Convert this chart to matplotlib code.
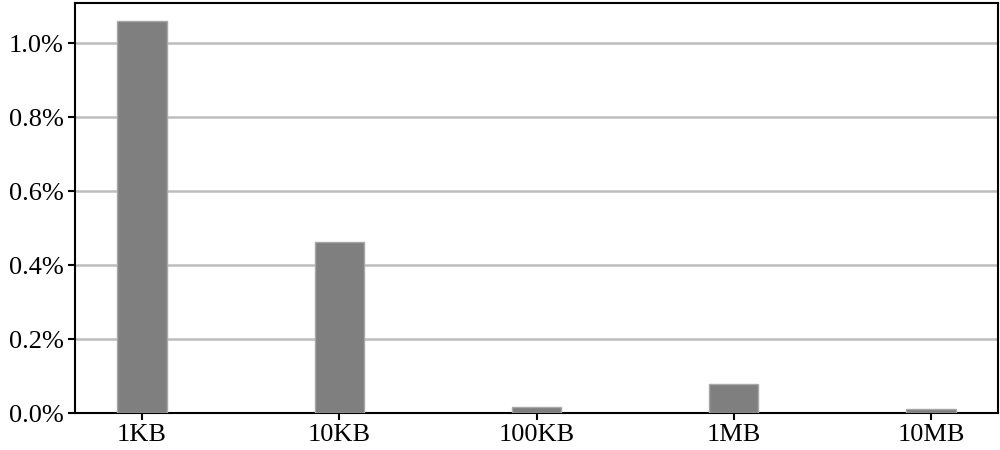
import matplotlib
matplotlib.use("Agg")
import matplotlib.pyplot as plt
from matplotlib.ticker import FuncFormatter

# Data
sizes = ["1KB", "10KB", "100KB", "1MB", "10MB"]
overhead_pct = [1.06, 0.463, 0.016, 0.080, 0.011]
y_ticks = [0.0, 0.2, 0.4, 0.6, 0.8, 1.0]

plt.rcParams["font.family"] = "serif"
plt.rcParams["font.serif"] = ["Liberation Serif", "DejaVu Serif"]
plt.rcParams["font.size"] = 19

fig = plt.figure(figsize=(10, 4.5), dpi=100)
ax = fig.add_axes([0.075, 0.082, 0.923, 0.911])

x = list(range(len(sizes)))
ax.bar(x, overhead_pct, width=0.25, color="#7f7f7f", edgecolor="#a8a8a8",
       linewidth=1.0, zorder=3)

ax.set_xlim(-0.34, 4.34)
ax.set_ylim(0, 1.109)
ax.set_xticks(x)
ax.set_xticklabels(sizes)
ax.set_yticks(y_ticks)
ax.yaxis.set_major_formatter(FuncFormatter(lambda v, _: f"{v:.1f}%"))
for lbl in ax.get_xticklabels() + ax.get_yticklabels():
    lbl.set_fontfamily("Liberation Serif")
    lbl.set_fontsize(19)

ax.yaxis.grid(True, color="#bdbdbd", linewidth=1.8, zorder=0)
ax.set_axisbelow(True)
for s in ax.spines.values():
    s.set_linewidth(1.5)
    s.set_color("black")
ax.tick_params(axis="both", direction="out", length=5, width=1.5, pad=3)

fig.savefig("out.png", dpi=100)
